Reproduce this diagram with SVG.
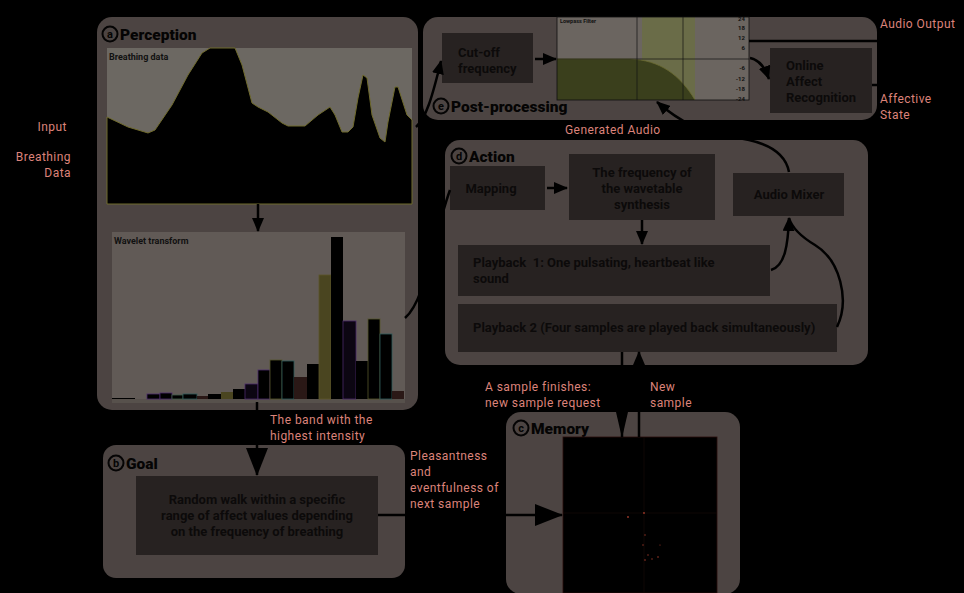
<svg xmlns="http://www.w3.org/2000/svg" width="964" height="593" viewBox="0 0 964 593">
<style>
.panel{fill:#4c4442}
.box{fill:#272221}
.bt{font-family:Roboto,"Liberation Sans",sans-serif;font-weight:bold;font-size:13px;fill:#0c0a0a}
.title{font-family:Roboto,"Liberation Sans",sans-serif;font-weight:900;font-size:15.5px;fill:#050404}
.circ{fill:none;stroke:#050404;stroke-width:2}
.cl{font-family:Roboto,"Liberation Sans",sans-serif;font-weight:bold;font-size:11px;fill:#050404;text-anchor:middle}
.lbl{font-family:Roboto,"Liberation Sans",sans-serif;font-size:12px;letter-spacing:0.45px;fill:#dc837a}
.conn{fill:none;stroke:#000;stroke-width:2.5}
.tiny{font-family:Roboto,"Liberation Sans",sans-serif;font-size:5.5px;fill:#111;font-weight:bold}
.bar{stroke-width:0.8}
</style>
<defs>
<marker id="big" markerUnits="userSpaceOnUse" markerWidth="28" markerHeight="22" refX="27" refY="11" orient="auto"><path d="M0,0 L28,11 L0,22 z" fill="#000"/></marker>
<marker id="med" markerUnits="userSpaceOnUse" markerWidth="26" markerHeight="12" refX="25" refY="6" orient="auto"><path d="M0,0 L26,6 L0,12 z" fill="#000"/></marker>
<marker id="sm" markerUnits="userSpaceOnUse" markerWidth="14" markerHeight="12" refX="13" refY="6" orient="auto"><path d="M0,0 L14,6 L0,12 z" fill="#000"/></marker>
</defs>
<rect x="0" y="0" width="964" height="593" fill="#000"/>

<!-- Perception -->
<g id="perception">
<rect class="panel" x="97" y="17" width="321" height="393" rx="15"/>
<circle class="circ" cx="110" cy="34" r="7.5"/><text class="cl" x="110" y="38">a</text>
<text class="title" x="120" y="39.5">Perception</text>
<rect x="107" y="48" width="305" height="156" fill="#6c6862"/>
<polygon fill="#000" stroke="#6f6a2c" stroke-width="1" points="107,117 128,127 148,133 155,130 172,105 188,75 202,53 210,48 235,48 242,65 252,103 258,107 268,112 282,123 288,126 305,126 318,115 330,107 335,115 342,132 348,132 353,127 358,98 363,75 367,78 372,115 380,138 385,142 388,122 395,87 398,87 407,115 412,120 412,204 107,204"/>
<text class="tiny" x="109" y="60" style="font-size:9px">Breathing data</text>
<rect x="112" y="232" width="293" height="170" fill="#615a56"/>
<rect x="112" y="399" width="293" height="4" fill="#57514c"/>
<text class="tiny" x="114" y="244" style="font-size:9px">Wavelet transform</text>
<g class="bar">
<rect x="112" y="398" width="11" height="1" fill="#000"/>
<rect x="123" y="398" width="12" height="1" fill="#000"/>
<rect x="147" y="394" width="13" height="5" fill="#000" stroke="#4a2a6a"/>
<rect x="160" y="393" width="12" height="6" fill="#000" stroke="#4a2a6a"/>
<rect x="172" y="395" width="11" height="4" fill="#000" stroke="#3f5c48"/>
<rect x="183" y="394" width="14" height="5" fill="#000" stroke="#2e5a5a"/>
<rect x="197" y="396" width="11" height="3" fill="#2a1816"/>
<rect x="208" y="394" width="13" height="5" fill="#000"/>
<rect x="221" y="392" width="12" height="7" fill="#4a4520"/>
<rect x="233" y="389" width="12" height="10" fill="#000"/>
<rect x="245" y="384" width="13" height="15" fill="#0c0612" stroke="#4a2a6a"/>
<rect x="258" y="370" width="12" height="29" fill="#000" stroke="#4a2a6a"/>
<rect x="270" y="360" width="12" height="39" fill="#000" stroke="#55552a"/>
<rect x="282" y="361" width="12" height="38" fill="#000" stroke="#2e5a5a"/>
<rect x="294" y="377" width="13" height="22" fill="#2a1816"/>
<rect x="307" y="364" width="12" height="35" fill="#000"/>
<rect x="319" y="275" width="12" height="124" fill="#4a4520" stroke="#5c5628"/>
<rect x="331" y="237" width="12" height="162" fill="#000"/>
<rect x="343" y="321" width="13" height="78" fill="#0c0612" stroke="#4a2a6a"/>
<rect x="356" y="361" width="12" height="38" fill="#000"/>
<rect x="368" y="319" width="12" height="80" fill="#000" stroke="#55552a"/>
<rect x="380" y="334" width="12" height="65" fill="#000" stroke="#2e5a5a"/>
<rect x="392" y="391" width="12" height="8" fill="#2a1816"/>
</g>
</g>

<!-- Post-processing -->
<g id="postprocessing">
<rect class="panel" x="423" y="17" width="454" height="103" rx="15"/>
<circle class="circ" cx="441" cy="106" r="7.5"/><text class="cl" x="441" y="110">e</text>
<text class="title" x="451" y="111.5">Post-processing</text>
<rect class="box" x="442" y="33" width="91" height="50"/>
<text class="bt" x="458" y="57">Cut-off</text>
<text class="bt" x="458" y="73">frequency</text>
<rect x="557" y="17" width="192" height="83" fill="#6b6560"/>
<rect x="642" y="17" width="53" height="83" fill="#6a6c48"/>
<path d="M557,59 L630,59 C660,60 680,75 695,100 L557,100 z" fill="#3a3f1c"/>
<path d="M557,59 L630,59 C660,60 680,75 695,100" fill="none" stroke="#6a6a30" stroke-width="0.8"/>
<line x1="557" y1="59" x2="749" y2="59" stroke="#111" stroke-width="0.7"/>
<line x1="637" y1="17" x2="637" y2="100" stroke="#111" stroke-width="0.7"/>
<line x1="683" y1="17" x2="683" y2="100" stroke="#111" stroke-width="0.7"/>
<rect x="557" y="17" width="192" height="83" fill="none" stroke="#111" stroke-width="0.8"/>
<text class="tiny" x="560" y="23">Lowpass Filter</text>
<g class="tiny" style="font-size:6px" text-anchor="end">
<text x="745" y="21">24</text>
<text x="745" y="30">18</text>
<text x="745" y="40">12</text>
<text x="745" y="50">6</text>
<text x="745" y="70">-6</text>
<text x="745" y="81">-12</text>
<text x="745" y="91">-18</text>
<text x="745" y="101">-24</text>
</g>
<rect class="box" x="770" y="48" width="102" height="65"/>
<text class="bt" x="786" y="70">Online</text>
<text class="bt" x="786" y="86">Affect</text>
<text class="bt" x="786" y="102">Recognition</text>
</g>

<!-- Action -->
<g id="action">
<rect class="panel" x="445" y="140" width="423" height="225" rx="15"/>
<circle class="circ" cx="459" cy="156" r="7.5"/><text class="cl" x="459" y="160">d</text>
<text class="title" x="469" y="161.5">Action</text>
<rect class="box" x="450" y="166" width="95" height="44"/>
<text class="bt" x="491" y="193" text-anchor="middle">Mapping</text>
<rect class="box" x="569" y="154" width="146" height="66"/>
<text class="bt" x="642" y="177" text-anchor="middle">The frequency of</text>
<text class="bt" x="642" y="193" text-anchor="middle">the wavetable</text>
<text class="bt" x="642" y="209" text-anchor="middle">synthesis</text>
<rect class="box" x="733" y="173" width="111" height="43"/>
<text class="bt" x="789" y="199" text-anchor="middle">Audio Mixer</text>
<rect class="box" x="458" y="245" width="312" height="51"/>
<text class="bt" x="473" y="267" style="white-space:pre">Playback  1: One pulsating, heartbeat like</text>
<text class="bt" x="473" y="283">sound</text>
<rect class="box" x="458" y="304" width="379" height="48"/>
<text class="bt" x="473" y="332">Playback 2 (Four samples are played back simultaneously)</text>
</g>

<!-- Goal -->
<g id="goal">
<rect class="panel" x="103" y="445" width="302" height="133" rx="13"/>
<circle class="circ" cx="116" cy="463" r="7.5"/><text class="cl" x="116" y="467">b</text>
<text class="title" x="126" y="468.5">Goal</text>
<rect class="box" x="136" y="476" width="242" height="79"/>
<text class="bt" x="257" y="504" text-anchor="middle">Random walk within a specific</text>
<text class="bt" x="257" y="520" text-anchor="middle">range of affect values depending</text>
<text class="bt" x="257" y="536" text-anchor="middle">on the frequency of breathing</text>
</g>

<!-- Memory -->
<g id="memory">
<rect class="panel" x="506" y="412" width="234" height="182" rx="15"/>
<circle class="circ" cx="521" cy="428" r="7.5"/><text class="cl" x="521" y="432">c</text>
<text class="title" x="531" y="433.5">Memory</text>
<rect x="563" y="437" width="154" height="156" fill="#000" stroke="#2a0e0c" stroke-width="0.8"/>
<line x1="644" y1="437" x2="644" y2="593" stroke="#1a0a08" stroke-width="0.6"/>
<line x1="563" y1="513" x2="717" y2="513" stroke="#1a0a08" stroke-width="0.6"/>
<g fill="#a03a2a">
<circle cx="628" cy="517" r="0.9"/><circle cx="644" cy="513" r="0.9"/><circle cx="645" cy="535" r="0.7"/>
<circle cx="643" cy="545" r="0.7"/><circle cx="648" cy="555" r="0.7"/><circle cx="645" cy="560" r="0.8"/>
<circle cx="658" cy="557" r="0.8"/><circle cx="652" cy="559" r="0.7"/><circle cx="660" cy="545" r="0.6"/>
</g>
</g>

<!-- Connectors -->
<g id="connectors">
<line class="conn" x1="258" y1="204" x2="258" y2="231" marker-end="url(#sm)"/>
<line class="conn" x1="257" y1="402" x2="257" y2="475" stroke-width="3" marker-end="url(#big)"/>
<line class="conn" x1="378" y1="515" x2="562" y2="515" stroke-width="3" marker-end="url(#big)"/>
<line class="conn" x1="622" y1="352" x2="622" y2="437" marker-end="url(#med)"/>
<line class="conn" x1="639" y1="437" x2="639" y2="352" marker-end="url(#sm)"/>
<path class="conn" d="M416,127 C426,118 432,98 441,61" marker-end="url(#sm)"/>
<path class="conn" d="M405,318 C426,300 432,240 450,190"/>
<line class="conn" x1="535" y1="59" x2="556" y2="59" marker-end="url(#sm)"/>
<path class="conn" d="M750,58 C760,60 765,68 769,79" marker-end="url(#sm)"/>
<line class="conn" x1="749" y1="41" x2="877" y2="41" stroke-width="3"/>
<line class="conn" x1="872" y1="85" x2="877" y2="85" stroke-width="3"/>
<line class="conn" x1="547" y1="188" x2="567" y2="188" marker-end="url(#sm)"/>
<line class="conn" x1="642" y1="220" x2="642" y2="244" marker-end="url(#sm)"/>
<path class="conn" d="M771,270 C785,266 788,245 789,218" marker-end="url(#sm)"/>
<path class="conn" d="M837,327 C850,300 840,260 815,245 C800,236 792,228 789,218"/>
<path class="conn" d="M789,172 C785,150 760,140 730,137 C705,134 680,122 657,102" marker-end="url(#sm)"/>
</g>

<!-- Labels -->
<g id="labels">
<text class="lbl" x="67" y="131" text-anchor="end">Input</text>
<text class="lbl" x="71" y="161" text-anchor="end">Breathing</text>
<text class="lbl" x="71" y="177" text-anchor="end">Data</text>
<text class="lbl" x="270" y="424">The band with the</text>
<text class="lbl" x="270" y="440">highest intensity</text>
<text class="lbl" x="410" y="460">Pleasantness</text>
<text class="lbl" x="410" y="476">and</text>
<text class="lbl" x="410" y="492">eventfulness of</text>
<text class="lbl" x="410" y="508">next sample</text>
<text class="lbl" x="485" y="391">A sample finishes:</text>
<text class="lbl" x="485" y="407">new sample request</text>
<text class="lbl" x="650" y="391">New</text>
<text class="lbl" x="650" y="407">sample</text>
<text class="lbl" x="565" y="134">Generated Audio</text>
<text class="lbl" x="880" y="28">Audio Output</text>
<text class="lbl" x="880" y="103">Affective</text>
<text class="lbl" x="880" y="119">State</text>
</g>
</svg>
